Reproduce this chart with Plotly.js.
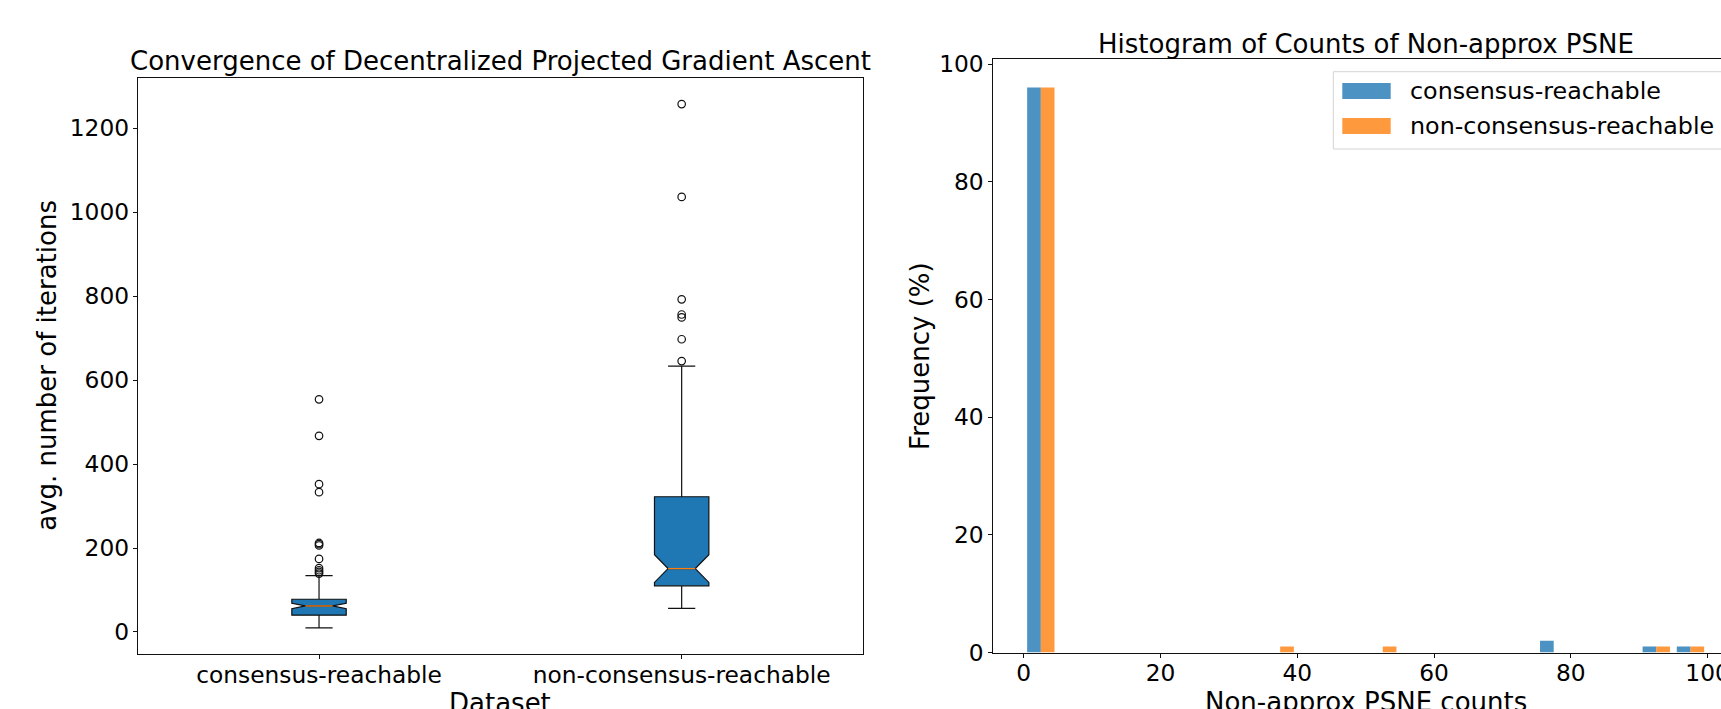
<!DOCTYPE html>
<html><head><meta charset="utf-8">
<script src="https://cdn.plot.ly/plotly-3.0.1.min.js"></script>
<style>
html,body{margin:0;padding:0;overflow:hidden;background:#fff;width:1721px;height:709px}
#chart{width:1760px;height:745px}
</style>
</head><body><div id="chart"></div>
<script>
// ---- Box plot data (avg. number of iterations) ----
const boxCategories = ['consensus-reachable', 'non-consensus-reachable'];
const boxPositions = [1, 2];
const boxLowerFence = [10, 56];
const boxQ1 = [40, 110];
const boxMedian = [62, 151];
const boxQ3 = [78, 322];
const boxUpperFence = [134, 633];
const boxNotchSpan = [6.5, 33];
const consensusOutliers = [554, 467, 352, 333, 212, 209, 206, 174, 152, 147, 143, 139];
const nonConsensusOutliers = [1257, 1036, 792, 756, 749, 697, 645];
const boxYTicks = [0, 200, 400, 600, 800, 1000, 1200];

// ---- Histogram data (Frequency %) ----
const binCenters = [2.5, 7.5, 12.5, 17.5, 22.5, 27.5, 32.5, 37.5, 42.5, 47.5,
                    52.5, 57.5, 62.5, 67.5, 72.5, 77.5, 82.5, 87.5, 92.5, 97.5];
const consensusFreq    = [96, 0, 0, 0, 0, 0, 0, 0, 0, 0, 0, 0, 0, 0, 0, 2, 0, 0, 1, 1];
const nonConsensusFreq = [96, 0, 0, 0, 0, 0, 0, 1, 0, 0, 1, 0, 0, 0, 0, 0, 0, 0, 1, 1];
const histXTicks = [0, 20, 40, 60, 80, 100];
const histYTicks = [0, 20, 40, 60, 80, 100];
const seriesNames = ['consensus-reachable', 'non-consensus-reachable'];

// ---- layout geometry (pixels) ----
const W = 1760, H = 745;
const px = x => x / W;
const py = y => 1 - y / H;
const L1 = {l: 137.7, r: 863, t: 77.7, b: 654};
const L2 = {l: 993.3, r: 1738, t: 59.3, b: 652.5};
const FONT = 'DejaVu Sans';
const BOXW = 0.15, NOTCHW = 0.25;

const traces = [];
traces.push({
  type: 'box', x: boxPositions, q1: boxQ1, median: boxMedian, q3: boxQ3,
  lowerfence: boxLowerFence, upperfence: boxUpperFence, notchspan: boxNotchSpan,
  notched: true, notchwidth: NOTCHW, width: BOXW, whiskerwidth: 0.5,
  boxpoints: false, fillcolor: '#1f77b4', line: {color: '#111', width: 1.2},
  xaxis: 'x', yaxis: 'y', showlegend: false, hoverinfo: 'skip'
});
// median lines (orange), spanning the notch
const mx = [], my = [];
boxPositions.forEach((p, i) => {
  const hw = BOXW / 2 * (1 - 2 * NOTCHW);
  mx.push(p - hw, p + hw, null); my.push(boxMedian[i], boxMedian[i], null);
});
traces.push({type: 'scatter', mode: 'lines', x: mx, y: my, line: {color: '#ff7f0e', width: 1.3},
  xaxis: 'x', yaxis: 'y', showlegend: false, hoverinfo: 'skip'});
// outliers
[consensusOutliers, nonConsensusOutliers].forEach((arr, i) => {
  traces.push({type: 'scatter', mode: 'markers', x: arr.map(() => boxPositions[i]), y: arr,
    marker: {symbol: 'circle-open', size: 7.5, color: '#111', line: {width: 1.2}},
    xaxis: 'x', yaxis: 'y', showlegend: false, hoverinfo: 'skip'});
});
// histogram bars
const histColors = ['rgba(31,119,180,0.8)', 'rgba(255,127,14,0.8)'];
[consensusFreq, nonConsensusFreq].forEach((vals, i) => {
  traces.push({type: 'bar', x: binCenters, y: vals, name: seriesNames[i],
    marker: {color: histColors[i], line: {width: 0}},
    xaxis: 'x2', yaxis: 'y2', showlegend: false, hoverinfo: 'skip'});
});

const axisCommon = {
  showline: true, linecolor: '#111', linewidth: 1, mirror: true,
  ticks: 'outside', ticklen: 4, tickwidth: 1, tickcolor: '#111',
  showgrid: false, zeroline: false, automargin: false,
  tickfont: {family: FONT, size: 23.3, color: '#000'}
};
const titleFont = {family: FONT, size: 26, color: '#000'};
const legFont = {family: FONT, size: 23.8, color: '#000'};
const ann = (text, x, y, opts) => Object.assign({text, xref: 'paper', yref: 'paper', x: px(x), y: py(y),
  xanchor: 'center', yanchor: 'middle', showarrow: false, font: titleFont}, opts || {});

const layout = {
  width: W, height: H, margin: {l: 0, r: 0, t: 0, b: 0, autoexpand: false},
  paper_bgcolor: '#fff', plot_bgcolor: '#fff',
  font: {family: FONT, color: '#000'},
  showlegend: false, barmode: 'group', bargap: 0.2, bargroupgap: 0,
  xaxis: Object.assign({}, axisCommon, {
    domain: [px(L1.l), px(L1.r)], anchor: 'y', range: [0.5, 2.5],
    tickvals: boxPositions, ticktext: boxCategories, ticklabelstandoff: -4
  }),
  yaxis: Object.assign({}, axisCommon, {
    domain: [py(L1.b), py(L1.t)], anchor: 'x', range: [-52.4, 1319.8],
    tickvals: boxYTicks, ticklabelstandoff: -1
  }),
  xaxis2: Object.assign({}, axisCommon, {
    domain: [px(L2.l), px(L2.r)], anchor: 'y2', range: [-4.45, 104.45],
    tickvals: histXTicks, ticklabelstandoff: -4
  }),
  yaxis2: Object.assign({}, axisCommon, {
    domain: [py(L2.b), py(L2.t)], anchor: 'x2', range: [0, 100.8],
    tickvals: histYTicks, ticklabelstandoff: 0
  }),
  annotations: [
    ann('Convergence of Decentralized Projected Gradient Ascent', (L1.l + L1.r) / 2, 61.5),
    ann('Histogram of Counts of Non-approx PSNE', (L2.l + L2.r) / 2, 44),
    ann('avg. number of iterations', 47, (L1.t + L1.b) / 2, {textangle: -90}),
    ann('Frequency (%)', 920, (L2.t + L2.b) / 2, {textangle: -90}),
    ann('Dataset', (L1.l + L1.r) / 2, 703),
    ann('Non-approx PSNE counts', (L2.l + L2.r) / 2, 702),
    ann(seriesNames[0], 1408, 91, {xanchor: 'left', font: legFont}),
    ann(seriesNames[1], 1408, 126, {xanchor: 'left', font: legFont})
  ],
  shapes: [
    {type: 'rect', xref: 'paper', yref: 'paper', x0: px(1333.3), x1: px(1735), y0: py(149), y1: py(71.7),
     line: {color: '#d4d4d4', width: 1}, fillcolor: 'rgba(255,255,255,0.8)', layer: 'above'},
    {type: 'rect', xref: 'paper', yref: 'paper', x0: px(1342.3), x1: px(1390.7), y0: py(99), y1: py(83),
     line: {width: 0}, fillcolor: histColors[0], layer: 'above'},
    {type: 'rect', xref: 'paper', yref: 'paper', x0: px(1342.3), x1: px(1390.7), y0: py(134), y1: py(118),
     line: {width: 0}, fillcolor: histColors[1], layer: 'above'}
  ]
};

Plotly.newPlot('chart', traces, layout, {displayModeBar: false, staticPlot: true});
</script>
</body></html>
